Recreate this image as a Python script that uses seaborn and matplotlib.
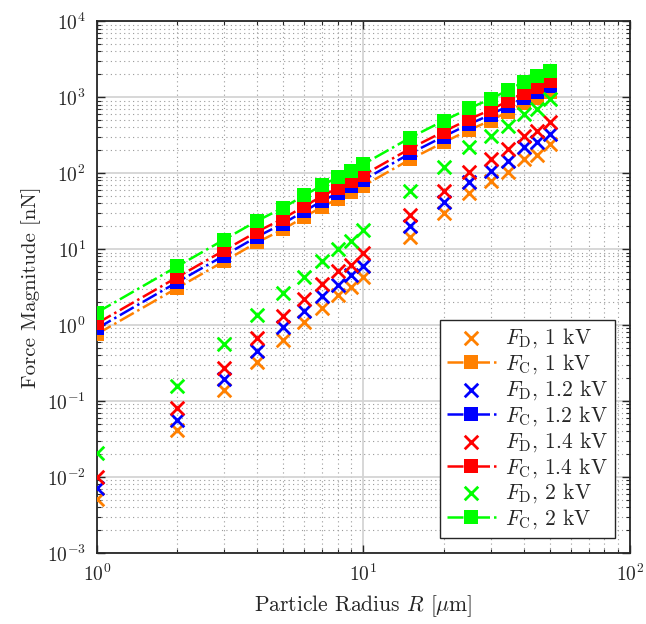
import numpy as np
import seaborn as sns
import matplotlib
matplotlib.use('Agg')
import matplotlib.pyplot as plt
from matplotlib.ticker import LogLocator, NullFormatter

# particle radii [um]
radius = [1, 2, 3, 4, 5, 6, 7, 8, 9, 10, 15, 20, 25, 30, 35, 40, 45, 50]

# dielectrophoretic force F_D [nN]
fd_1kv = [0.0051, 0.041, 0.138, 0.325, 0.63, 1.08, 1.70, 2.46, 3.2, 4.3,
          14.2, 29.5, 54, 78, 105, 152, 173, 241]
fd_12kv = [0.0072, 0.0565, 0.195, 0.46, 0.93, 1.54, 2.41, 3.4, 4.5, 6.0,
           20.1, 41.4, 75.5, 108, 146, 218, 254, 332]
fd_14kv = [0.0101, 0.080, 0.272, 0.67, 1.32, 2.18, 3.43, 5.1, 6.25, 8.9,
           27.7, 58.8, 105, 152, 206, 307, 360, 472]
fd_2kv = [0.0206, 0.157, 0.565, 1.35, 2.61, 4.3, 6.9, 10.0, 12.6, 17.9,
          58.8, 120, 223, 307, 414, 604, 701, 947]

# coulomb force F_C [nN]
fc_1kv = [0.76, 3.07, 6.9, 12.3, 18.2, 26.5, 35.9, 45.8, 56, 68,
          152, 254, 371, 492, 646, 827, 983, 1165]
fc_12kv = [0.90, 3.66, 8.2, 14.6, 21.7, 31.6, 42.8, 54.6, 67, 81,
           182, 303, 443, 587, 770, 986, 1172, 1389]
fc_14kv = [1.05, 4.25, 9.6, 17.0, 25.2, 36.7, 49.7, 63.4, 77.8, 94.3,
           211, 352, 514, 681, 894, 1145, 1361, 1613]
fc_2kv = [1.46, 5.9, 13.3, 23.6, 35, 51, 69, 88, 108, 131,
          293, 489, 714, 946, 1242, 1590, 1890, 2240]

voltages = ['1', '1.2', '1.4', '2']
colors = ['#ff8000', '#0000ff', '#ff0000', '#00ff00']
fd_all = [fd_1kv, fd_12kv, fd_14kv, fd_2kv]
fc_all = [fc_1kv, fc_12kv, fc_14kv, fc_2kv]

sns.set_theme(style='ticks')
plt.rcParams['font.family'] = 'serif'
plt.rcParams['font.serif'] = ['cmr10']
plt.rcParams['mathtext.fontset'] = 'cm'
plt.rcParams['axes.formatter.use_mathtext'] = True
plt.rcParams['axes.unicode_minus'] = False

fig = plt.figure(figsize=(6.46, 6.24), dpi=100)
ax = fig.add_axes([0.150, 0.114, 0.825, 0.852])

for v, c, fd, fc in zip(voltages, colors, fd_all, fc_all):
    sns.scatterplot(x=radius, y=fd, ax=ax, marker='x', color=c, s=95,
                    linewidth=2.0, label=r'$F_{\mathrm{D}}$, ' + v + ' kV', zorder=3)
    sns.lineplot(x=radius, y=fc, ax=ax, color=c, marker='s', markersize=9.5,
                 markeredgewidth=0, linestyle='-.', linewidth=1.8,
                 label=r'$F_{\mathrm{C}}$, ' + v + ' kV', zorder=3)

ax.set_xscale('log')
ax.set_yscale('log')
ax.set_xlim(1, 100)
ax.set_ylim(1e-3, 1e4)

ax.yaxis.set_major_locator(LogLocator(base=10, numticks=20))
ax.yaxis.set_minor_locator(LogLocator(base=10, subs=np.arange(2, 10), numticks=40))
ax.yaxis.set_minor_formatter(NullFormatter())
ax.xaxis.set_minor_formatter(NullFormatter())

ax.grid(which='major', color='#d4d4d4', linestyle='-', linewidth=1.3)
ax.grid(which='minor', color='#9a9a9a', linestyle=(0, (1, 3)), linewidth=0.8)
ax.set_axisbelow(True)

ax.tick_params(which='both', direction='in', top=True, right=True, colors='#262626',
               labelcolor='#262626')
ax.tick_params(which='major', length=6, width=1.0, labelsize=14, pad=8)
ax.tick_params(which='minor', length=3, width=0.8)
for sp in ax.spines.values():
    sp.set_linewidth(1.3)
    sp.set_color('#262626')

ax.set_xlabel(r'Particle Radius $R$ [$\mu$m]', fontsize=15.5, color='#262626',
              labelpad=6)
ax.set_ylabel('Force Magnitude [nN]', fontsize=15, color='#262626')

leg = ax.legend(loc='lower right', fontsize=15.5, frameon=True, fancybox=False,
                edgecolor='#262626', framealpha=1, borderpad=0.3,
                handlelength=2.3, handletextpad=0.4, labelspacing=0.1,
                borderaxespad=0.7)
leg.get_frame().set_linewidth(1.0)

fig.savefig('out.png', dpi=100)
